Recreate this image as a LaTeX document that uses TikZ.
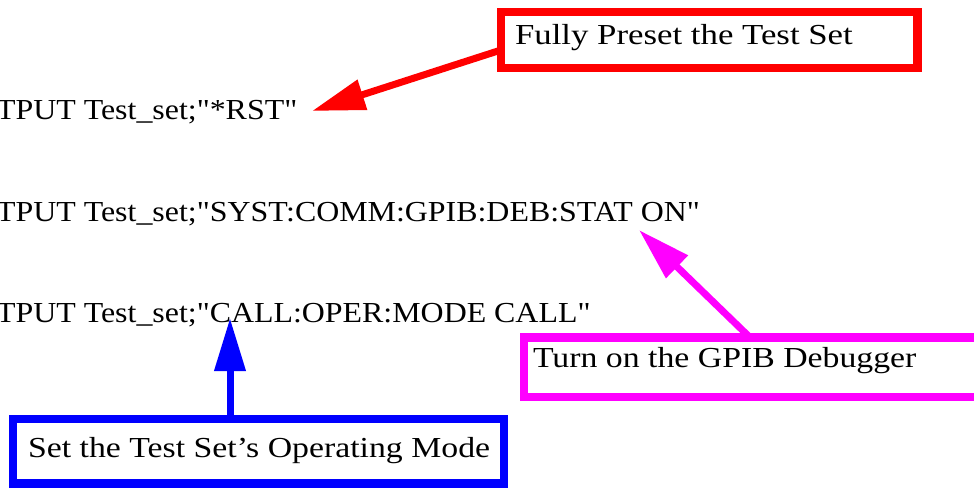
\documentclass[tikz,border=0pt]{standalone}
\usepackage{fontspec}
\setmainfont[FakeStretch=1.165,Ligatures=TeXOff]{Liberation Serif}
\newfontfamily\codefont[FakeStretch=1.1,Ligatures=TeXOff]{Liberation Serif}
\newfontfamily\widefont[FakeStretch=1.2,Ligatures=TeXOff]{Liberation Serif}
\usetikzlibrary{arrows.meta}
\definecolor{boxred}{RGB}{255,0,0}
\definecolor{boxmag}{RGB}{255,0,255}
\definecolor{boxblue}{RGB}{0,0,255}
\begin{document}
\begin{tikzpicture}[x=1pt,y=-1pt,
  every node/.style={inner sep=0pt,outer sep=0pt,font=\fontsize{29}{35}\selectfont},
  callout/.style={draw=#1,line width=8.5pt,anchor=north west},
  codeline/.style={anchor=base west,font=\codefont\fontsize{29}{35}\selectfont},
  boxtext/.style={anchor=base west},
  pointer/.style={draw=#1,line width=7pt,-{Triangle[length=53pt,width=30pt,fill=#1]}}
]
\useasboundingbox (0,0) rectangle (974,488);
\clip (0,0) rectangle (974,488);

% program lines
\node[codeline] (l1) at (-50,119) {OUTPUT Test\_set;"*RST"};
\node[codeline] (l2) at (-50,221) {OUTPUT Test\_set;"SYST:COMM:GPIB:DEB:STAT ON"};
\node[codeline] (l3) at (-50,322) {OUTPUT Test\_set;"CALL:OPER:MODE CALL"};

% callout boxes
\node[callout=boxred,minimum width=416.5pt,minimum height=56pt] (fp) at (501,12) {};
\node[boxtext,font=\widefont\fontsize{29}{35}\selectfont] (fpt) at (515,44) {Fully Preset the Test Set};

\node[callout=boxmag,minimum width=470pt,minimum height=59.5pt] (gd) at (524,337.5) {};
\node[boxtext] (gdt) at (533,367) {Turn on the GPIB Debugger};

\node[callout=boxblue,minimum width=491pt,minimum height=64.5pt] (om) at (13,419) {};
\node[boxtext] (omt) at (28,457) {Set the Test Set’s Operating Mode};

% arrow tips
\coordinate (rtip) at (312,111);
\coordinate (mtip) at (639,230);
\coordinate (btip) at (230,318);

% pointers
\draw[pointer=boxred] ([yshift=-10pt]fp.west) -- (rtip);
\draw[pointer=boxmag] ([xshift=226pt]gd.north west) -- (mtip);
\draw[pointer=boxblue] (om.north -| btip) -- (btip);
\end{tikzpicture}
\end{document}
